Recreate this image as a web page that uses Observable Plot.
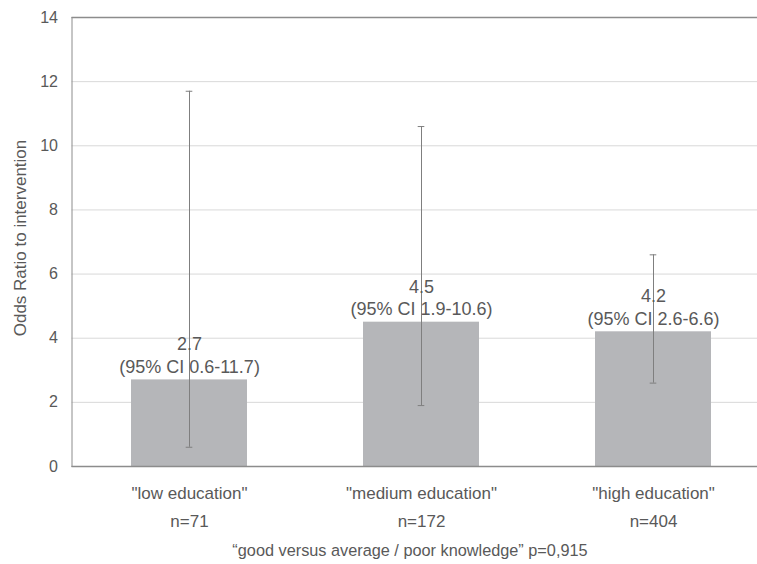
<!DOCTYPE html>
<html>
<head>
<meta charset="utf-8">
<script src="https://cdn.jsdelivr.net/npm/d3@7"></script>
<script src="https://cdn.jsdelivr.net/npm/@observablehq/plot@0.6"></script>
<style>
  html, body { margin: 0; padding: 0; background: white; overflow: hidden; }
  body { width: 757px; height: 564px; font-family: "Liberation Sans", Arial, sans-serif; }
  #caption { width: 757px; box-sizing: border-box; padding-left: 63px; text-align: center; font-size: 16.3px; color: #595959; margin-top: 3px; }
</style>
</head>
<body>
<div id="chart"></div>
<div id="caption"></div>
<script>
const categories = ['"low education"', '"medium education"', '"high education"'];
const oddsRatio = [2.7, 4.5, 4.2];
const ciLow = [0.6, 1.9, 2.6];
const ciHigh = [11.7, 10.6, 6.6];
const sampleSizes = ["n=71", "n=172", "n=404"];
const yTicks = [0, 2, 4, 6, 8, 10, 12, 14];
const yLabel = "Odds Ratio to intervention";
const captionText = "\u201cgood versus average / poor knowledge\u201d p=0,915";

const data = categories.map((c, i) => ({
  cat: c,
  or: oddsRatio[i],
  lo: ciLow[i],
  hi: ciHigh[i],
  n: sampleSizes[i],
  label: `${oddsRatio[i].toFixed(1)}\n(95% CI ${ciLow[i].toFixed(1)}-${ciHigh[i].toFixed(1)})`
}));

const textColor = "#595959";
const font = "Liberation Sans, Arial, sans-serif";

const chart = Plot.plot({
  width: 757,
  height: 538,
  marginTop: 17,
  marginBottom: 72,
  marginLeft: 71.5,
  marginRight: 0,
  style: { fontFamily: font, color: textColor, background: "white" },
  x: { domain: categories, range: [71.5, 770], paddingInner: 0.5, paddingOuter: 0.25, label: null },
  y: { domain: [0, 14], ticks: yTicks, label: null },
  marks: [
    Plot.gridY(yTicks, { stroke: "#d9d9d9", strokeOpacity: 1 }),
    Plot.barY(data, { x: "cat", y: "or", fill: "#b5b6b9" }),
    Plot.ruleX(data, { x: "cat", y1: "lo", y2: "hi", stroke: "#7f7f7f", strokeWidth: 1 }),
    Plot.tickY(data, { x: "cat", y: "lo", stroke: "#7f7f7f", insetLeft: 54.7, insetRight: 54.7 }),
    Plot.tickY(data, { x: "cat", y: "hi", stroke: "#7f7f7f", insetLeft: 54.7, insetRight: 54.7 }),
    Plot.text(data, { x: "cat", y: "or", text: "label", lineAnchor: "bottom", dy: -7, fontSize: 18, fill: textColor, lineHeight: 1.25 }),
    Plot.ruleY([0], { stroke: "#8c8c8c", strokeWidth: 1.5 }),
    Plot.ruleY([14], { stroke: "#8c8c8c", strokeWidth: 1.5 }),
    Plot.frame({ stroke: "#8c8c8c", anchor: "left" }),
    Plot.axisY({ ticks: yTicks, tickSize: 0, tickPadding: 14, fontSize: 16, fill: textColor, label: null }),
    Plot.axisX({ tickSize: 0, tickPadding: 20, fontSize: 17, fill: textColor, label: null }),
    Plot.text(data, { x: "cat", y: 0, text: "n", dy: 55, fontSize: 17, fill: textColor }),
    Plot.text([yLabel], { frameAnchor: "left", textAnchor: "middle", rotate: -90, dx: -51, dy: -4, fontSize: 17, fill: textColor })
  ]
});
document.getElementById("chart").appendChild(chart);
document.getElementById("caption").textContent = captionText;
</script>
</body>
</html>
